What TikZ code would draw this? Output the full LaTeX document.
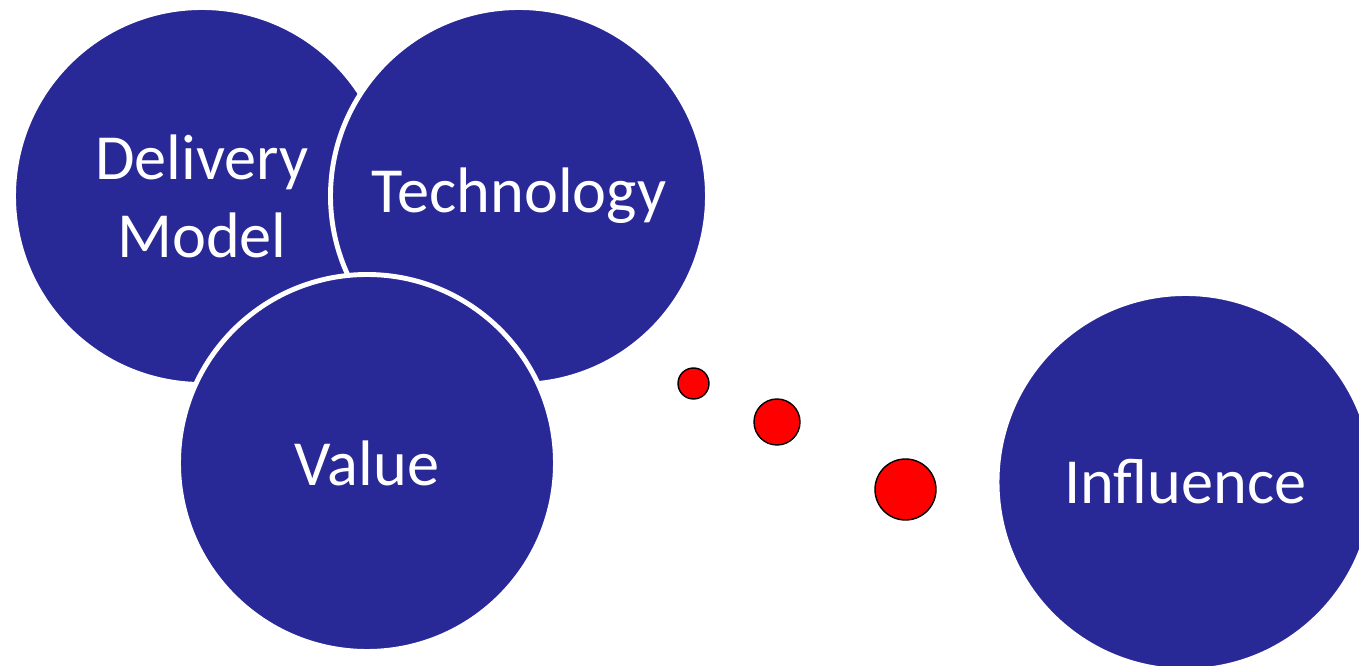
\documentclass[tikz,border=0pt]{standalone}
\usepackage{fontspec}
\setmainfont{Carlito}
\usetikzlibrary{positioning}
\definecolor{bubbleblue}{RGB}{40,40,150}

\begin{document}
\begin{tikzpicture}[
    bubble/.style={circle, fill=bubbleblue, draw=white, line width=2.8pt,
        minimum size=7.54cm, inner sep=0pt, text=white, align=center,
        font=\fontsize{36.6}{44.5}\selectfont},
    dot/.style={circle, fill=red, draw=black, line width=0.8pt, inner sep=0pt}
]
    \useasboundingbox (0,0) rectangle (27.18,-13.32);
    \node[bubble] (delivery) at (4.04,-3.92) {Delivery\\Model};
    \node[bubble, on grid, right=6.34cm of delivery] (tech) {Technology};
    \node[bubble, on grid, below right=5.34cm and 3.3cm of delivery] (value) {Value};
    \node[dot, minimum size=0.62cm, on grid, above right=1.59cm and 6.53cm of value] (dotA) {};
    \node[dot, minimum size=0.92cm, on grid, below right=0.77cm and 1.67cm of dotA] (dotB) {};
    \node[dot, minimum size=1.22cm, on grid, below right=1.35cm and 2.57cm of dotB] (dotC) {};
    \node[bubble, on grid, above right=0.15cm and 5.6cm of dotC] (influence) {Influence};
\end{tikzpicture}
\end{document}
